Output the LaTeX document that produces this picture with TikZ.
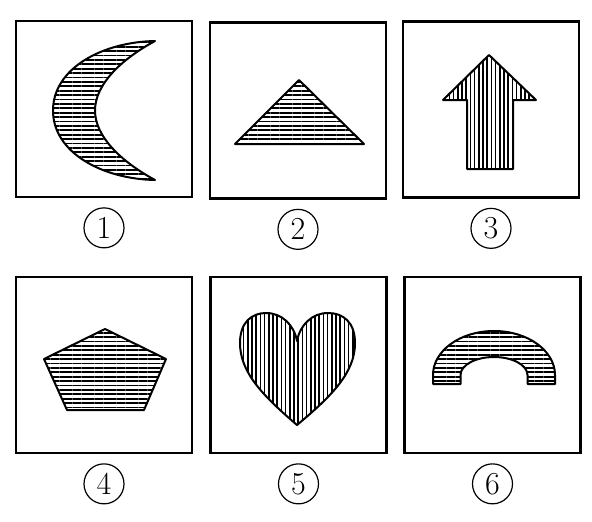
\documentclass[tikz,border=0pt]{standalone}
\usepackage{tikz}
\usetikzlibrary{positioning,patterns.meta}
\tikzset{
  framebox/.style = {draw=black, line width=2.5pt, minimum size=176pt, inner sep=0pt},
  numlabel/.style = {circle, draw=black, line width=1.2pt, minimum size=40pt,
                     inner sep=0pt, font=\fontsize{32}{32}\selectfont},
  hatchh/.style   = {draw=black, line width=2pt, line join=round,
                     pattern={Lines[distance=4.4pt, line width=1.8pt]}},
  hatchv/.style   = {draw=black, line width=2pt, line join=round,
                     pattern={Lines[angle=90, distance=4.2pt, line width=1.7pt]}},
}

\begin{document}
\begin{tikzpicture}[x=1pt, y=-1pt]
\useasboundingbox (0,0) rectangle (592,522);

%── frames and their numbers ──────────────────────────────────────
\foreach \k/\cx/\cy in {1/104/109, 2/298/110.5, 3/491/109.5,
                        4/104/365, 5/298.5/365, 6/492.5/365}{
  \node[framebox] (b\k) at (\cx,\cy) {};
  \node[numlabel, below=9pt of b\k] (n\k) {\k};
}

%── (1) crescent, horizontal hatching ─────────────────────────────
\draw[hatchh] (155,41) .. controls (103,42) and (53,68) .. (53,110.5)
  .. controls (53,153) and (103,179) .. (155,180)
  .. controls (120,161) and (95,136) .. (95,110.5)
  .. controls (95,85) and (120,60) .. (155,41) -- cycle;

%── (2) triangle ──────────────────────────────────────────────────
\draw[hatchh] (299,80) -- (364,144) -- (235,144) -- cycle;

%── (3) arrow, vertical hatching ──────────────────────────────────
\draw[hatchv] (489,55) -- (536,100) -- (513,100) -- (513,169)
  -- (467,169) -- (467,100) -- (443,100) -- cycle;

%── (4) pentagon ──────────────────────────────────────────────────
\draw[hatchh] (105,329) -- (166,359) -- (144,410) -- (67,410) -- (44,359) -- cycle;

%── (5) heart ─────────────────────────────────────────────────────
\draw[hatchv] (297,425) .. controls (262,395) and (240,372) .. (240,343)
  .. controls (240,322) and (252,313) .. (266,313)
  .. controls (282,313) and (294,325) .. (297,341)
  .. controls (300,325) and (312,313) .. (328,313)
  .. controls (343,313) and (355,322) .. (355,343)
  .. controls (355,372) and (333,395) .. (297,425) -- cycle;

%── (6) arch ──────────────────────────────────────────────────────
\draw[hatchh] (433,384) -- (433,375)
  .. controls (433,350.7) and (460.3,331) .. (494,331)
  .. controls (527.7,331) and (555,350.7) .. (555,375) -- (555,384)
  -- (527.5,384) -- (527.5,375)
  .. controls (527.5,365.1) and (512.5,357) .. (494,357)
  .. controls (475.5,357) and (460.5,365.1) .. (460.5,375)
  -- (460.5,384) -- cycle;

\end{tikzpicture}
\end{document}
